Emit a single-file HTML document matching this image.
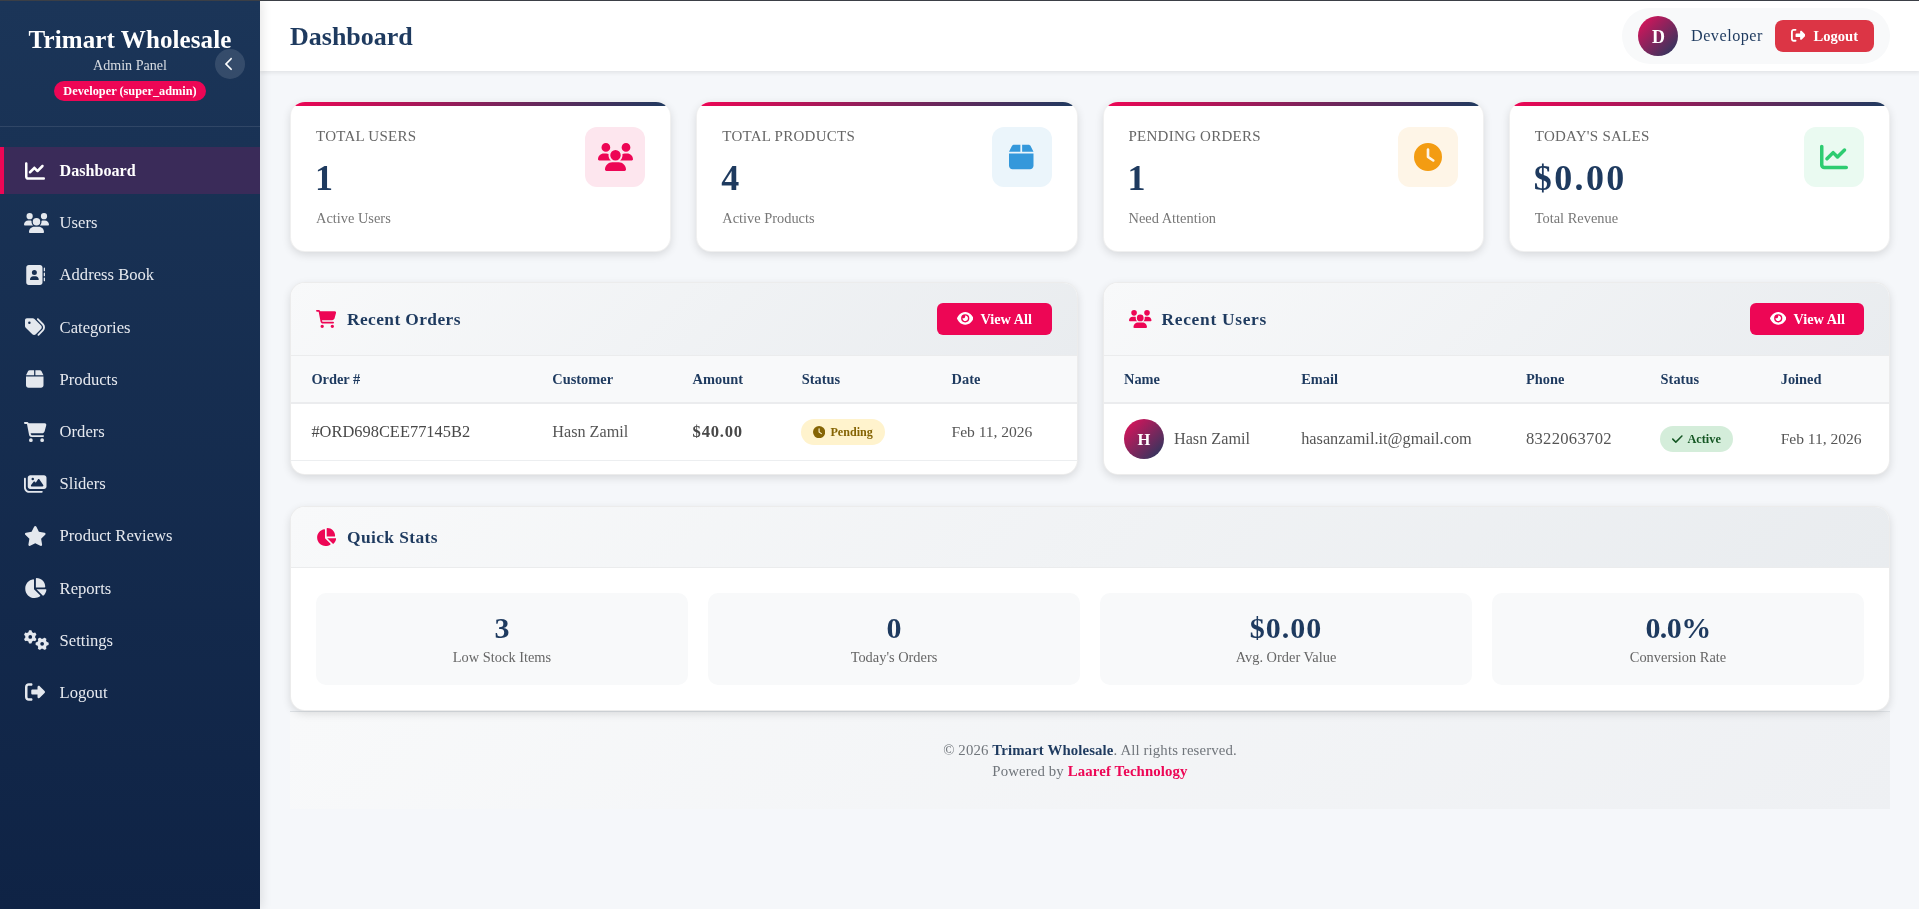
<!DOCTYPE html>
<html lang="en">
<head>
<meta charset="utf-8">
<title>Dashboard - Trimart Wholesale Admin</title>
<style>
*{box-sizing:border-box;margin:0;padding:0}
html,body{width:1919px;height:909px;overflow:hidden}
body{font-family:"Liberation Serif",serif;background:#f5f7fa;color:#4a4a4a;position:relative}
svg{display:block}
.sidebar,.main{will-change:transform}
.topline{position:absolute;left:0;top:0;width:1919px;height:1px;background:#3b3f46;z-index:50}

/* ---------- sidebar ---------- */
.sidebar{position:absolute;left:0;top:0;width:260px;height:909px;background:linear-gradient(180deg,#1b3558 0%,#0f2345 100%);box-shadow:2px 0 10px rgba(0,0,0,.1);z-index:20;color:#fff}
.sb-head{position:relative;height:127px;border-bottom:1px solid rgba(255,255,255,.1);text-align:center}
.sb-head h2{position:absolute;left:0;width:260px;top:25px;font-size:25px;line-height:30px;font-weight:700;color:#fff;letter-spacing:.1px;white-space:nowrap}
.sb-head p{position:absolute;left:0;width:260px;top:56px;font-size:14.1px;line-height:18px;color:rgba(255,255,255,.82);white-space:nowrap}
.sb-badge{position:absolute;left:54px;top:81px;width:152px;height:20px;border-radius:10px;background:#ed0655;color:#fff;font-size:12.3px;font-weight:700;line-height:20px;white-space:nowrap}
.sb-toggle{position:absolute;left:215px;top:49px;width:30px;height:30px;border-radius:50%;background:rgba(255,255,255,.12)}
.sb-toggle svg{position:absolute;left:9.5px;top:8px;width:8.75px;height:14px;fill:#fff}
.nav{position:absolute;left:0;top:147px;width:260px;list-style:none}
.nav li{height:47.2px;margin-bottom:5px;position:relative;border-left:4px solid transparent;white-space:nowrap}
.nav li.active{background:#3a2b59;border-left-color:#ed0655}
.nav li svg{position:absolute;left:21px;top:13.6px;height:20px;fill:#e4e8ee;overflow:visible}
.nav li.active svg{fill:#fff}
.nav li span{position:absolute;left:55.6px;top:0;line-height:47.2px;font-size:16.6px;color:#e6e9ef}
.nav li.active span{font-weight:700;color:#fff;font-size:16.1px}

/* ---------- header ---------- */
.main{position:absolute;left:260px;top:0;width:1660px;height:909px}
.hdr{position:absolute;left:0;top:0;width:1660px;height:71px;background:#fff;box-shadow:0 2px 4px rgba(0,0,0,.08);z-index:10}
.hdr h1{position:absolute;left:30px;top:19px;font-size:26px;line-height:36px;font-weight:700;color:#1e3a5f;white-space:nowrap}
.userpill{position:absolute;left:1362px;top:8px;width:268px;height:56px;border-radius:28px;background:#f8f9fa}
.avatar{position:absolute;left:16px;top:8px;width:40px;height:40px;border-radius:50%;background:linear-gradient(135deg,#e9105a 0%,#1e3a5f 100%);color:#fff;font-weight:700;font-size:18px;line-height:42.4px;text-align:center;padding-left:1px}
.uname{position:absolute;left:69px;top:0;line-height:56.6px;font-size:16.2px;letter-spacing:.5px;color:#1e3a5f;white-space:nowrap}
.btn-logout{position:absolute;left:153px;top:12px;width:99px;height:32px;border-radius:8px;background:#dc3545;color:#fff;font-weight:700;font-size:14.6px;line-height:32px;white-space:nowrap}
.btn-logout svg{position:absolute;left:15.5px;top:8px;width:14.6px;height:14.6px;fill:#fff}
.btn-logout span{position:absolute;left:38.5px;top:0}

/* ---------- stat cards ---------- */
.card{position:absolute;top:101px;width:381.25px;height:151px;background:#fff;border:1px solid rgba(0,0,0,.06);border-radius:15px;box-shadow:0 3px 8px rgba(0,0,0,.12);overflow:hidden}
.card:before{content:"";position:absolute;left:0;top:0;width:100%;height:4px;background:linear-gradient(90deg,#ed0655 0%,#1e3a5f 100%)}
.card h3{position:absolute;left:25px;top:24px;font-size:15px;line-height:21px;font-weight:400;color:#666;letter-spacing:.25px;white-space:nowrap}
.card .val{position:absolute;left:24px;top:53px;font-size:36px;line-height:46px;font-weight:700;color:#1e3a5f;white-space:nowrap}
.card .sub{position:absolute;left:25px;top:106px;font-size:14.4px;line-height:20px;color:#777;white-space:nowrap}
.card .ico{position:absolute;right:25px;top:25px;width:60px;height:60px;border-radius:12px}
.card .ico svg{position:absolute}

/* ---------- panels ---------- */
.panel{position:absolute;z-index:2;background:#fff;border-radius:15px;border:1px solid rgba(0,0,0,.075);box-shadow:0 3px 8px rgba(0,0,0,.12);overflow:hidden}
.panel-h{position:absolute;left:0;top:0;width:100%;height:73px;background:linear-gradient(135deg,#f8f9fa 0%,#e9ecef 100%);border-bottom:1px solid #ebeced}
.panel-h .pi{position:absolute;left:25px;fill:#ed0655}
.panel-h h3{position:absolute;left:56px;top:0;line-height:73px;font-size:17.4px;font-weight:700;color:#1e3a5f;letter-spacing:.4px;white-space:nowrap}
.btn-view{position:absolute;right:24.8px;top:20px;width:115.5px;height:32.4px;border-radius:6px;background:#ed0655;color:#fff;font-size:14.3px;font-weight:700;line-height:32px;white-space:nowrap}
.btn-view svg{position:absolute;left:20px;top:8.1px;fill:#fff}
.btn-view span{position:absolute;left:43.8px;top:0}
.thead{position:absolute;left:0;top:73px;width:100%;height:48px;background:#f8f9fa;border-bottom:2px solid #ebecee}
.th{position:absolute;top:0;line-height:46px;font-size:14.4px;font-weight:700;color:#1e3a5f;white-space:nowrap}
.row{position:absolute;left:0;top:121px;width:100%;border-bottom:1px solid #eceef0}
.td{position:absolute;top:0;font-size:16.2px;color:#555;white-space:nowrap}
.badge{position:absolute;height:25.6px;border-radius:13px;font-size:12.3px;font-weight:700;line-height:25.6px;white-space:nowrap}
.badge svg{position:absolute}
.badge span{position:absolute;top:0}
.uav{position:absolute;left:20px;top:15px;width:40px;height:40px;border-radius:50%;background:linear-gradient(135deg,#e9105a 0%,#1e3a5f 100%);color:#fff;font-weight:700;font-size:16.5px;line-height:42.4px;text-align:center}

/* ---------- quick stats ---------- */
.qs-h{position:absolute;left:0;top:0;width:100%;height:61px;background:linear-gradient(135deg,#f8f9fa 0%,#e9ecef 100%);border-bottom:1px solid #ebeced}
.qs-h h3{position:absolute;left:56px;top:0;line-height:61px;font-size:17.4px;font-weight:700;color:#1e3a5f;letter-spacing:.4px;white-space:nowrap}
.qbox{position:absolute;top:86px;width:372px;height:92px;border-radius:10px;background:#f8f9fa;text-align:center}
.qbox b{position:absolute;left:0;width:100%;top:17px;font-size:30px;line-height:36px;font-weight:700;color:#1e3a5f;white-space:nowrap}
.qbox span{position:absolute;left:0;width:100%;top:54px;font-size:14.4px;line-height:20px;color:#666;white-space:nowrap}
/* ---------- footer ---------- */
.foot{position:absolute;z-index:1;left:30px;top:711px;width:1600px;height:98px;border-top:1px solid #dfe3e7;background:linear-gradient(135deg,#f8f9fa 0%,#eef0f3 100%);text-align:center;font-size:14.8px;color:#70757b;letter-spacing:.13px}
.foot p{position:absolute;left:0;width:100%;line-height:21px;white-space:nowrap}
.foot b{color:#1e3a5f;font-weight:700}
.foot a{color:#ed0655;font-weight:700;text-decoration:none}
</style>
</head>
<body>
<div class="topline"></div>

<aside class="sidebar">
  <div class="sb-head">
    <h2>Trimart Wholesale</h2>
    <p>Admin Panel</p>
    <div class="sb-badge">Developer (super_admin)</div>
    <div class="sb-toggle"><svg viewBox="0 0 320 512"><path d="M9.4 233.400c-12.500 12.500-12.500 32.800 0 45.300l192 192c12.500 12.500 32.800 12.500 45.300 0s12.500-32.800 0-45.300L77.300 256 246.600 86.600c12.500-12.500 12.500-32.800 0-45.300s-32.800-12.500-45.300 0l-192 192z"/></svg></div>
  </div>
  <ul class="nav">
    <li class="active"><svg viewBox="0 0 512 512" style="width:20px;height:20px;left:21px"><path d="M64 64c0-17.700-14.300-32-32-32S0 46.300 0 64V400c0 44.200 35.800 80 80 80H480c17.700 0 32-14.300 32-32s-14.300-32-32-32H80c-8.800 0-16-7.200-16-16V64zm406.600 86.600c12.500-12.500 12.500-32.800 0-45.300s-32.800-12.500-45.300 0L320 210.700l-57.400-57.400c-12.500-12.500-32.800-12.500-45.300 0l-112 112c-12.500 12.500-12.500 32.800 0 45.300s32.800 12.500 45.300 0L240 221.300l57.400 57.400c12.500 12.500 32.800 12.500 45.300 0l128-128z"/></svg><span>Dashboard</span></li>
    <li><svg viewBox="0 0 640 512" style="width:25px;height:20px;left:20.3px"><path d="M144 0a80 80 0 1 1 0 160A80 80 0 1 1 144 0zM512 0a80 80 0 1 1 0 160A80 80 0 1 1 512 0zM0 298.700C0 239.800 47.800 192 106.700 192h42.700c15.900 0 31 3.500 44.600 9.700c-1.300 7.200-1.900 14.700-1.900 22.300c0 38.200 16.800 72.500 43.300 96c-.2 0-.4 0-.7 0H21.300C9.600 320 0 310.400 0 298.700zM405.300 320c-.2 0-.4 0-.7 0c26.600-23.500 43.300-57.800 43.300-96c0-7.600-.7-15-1.900-22.300c13.600-6.300 28.700-9.700 44.600-9.700h42.700C592.200 192 640 239.800 640 298.700c0 11.800-9.600 21.300-21.300 21.300H405.300zM224 224a96 96 0 1 1 192 0 96 96 0 1 1 -192 0zM128 485.300C128 411.700 187.700 352 261.300 352H378.700C452.300 352 512 411.700 512 485.300c0 14.700-11.900 26.700-26.700 26.700H154.700c-14.700 0-26.700-11.900-26.700-26.700z"/></svg><span>Users</span></li>
    <li><svg viewBox="0 0 512 512" style="width:20px;height:20px;left:21px"><path d="M96 0C60.700 0 32 28.700 32 64V448c0 35.300 28.700 64 64 64H384c35.300 0 64-28.700 64-64V64c0-35.300-28.700-64-64-64H96zM208 288h64c44.200 0 80 35.800 80 80c0 8.800-7.200 16-16 16H144c-8.800 0-16-7.200-16-16c0-44.200 35.800-80 80-80zm-32-96a64 64 0 1 1 128 0 64 64 0 1 1 -128 0zM512 80c0-8.800-7.200-16-16-16s-16 7.200-16 16v64c0 8.800 7.200 16 16 16s16-7.200 16-16V80zM496 192c-8.800 0-16 7.200-16 16v64c0 8.800 7.200 16 16 16s16-7.200 16-16V208c0-8.800-7.200-16-16-16zm16 144c0-8.800-7.200-16-16-16s-16 7.200-16 16v64c0 8.800 7.200 16 16 16s16-7.200 16-16V336z"/></svg><span>Address Book</span></li>
    <li><svg viewBox="0 0 512 512" style="width:20px;height:20px;left:21px"><path d="M345 39.100L472.800 168.400c52.400 53 52.400 138.200 0 191.200L360.800 472.900c-9.300 9.400-24.500 9.500-33.900 .2s-9.500-24.500-.2-33.900L438.600 325.900c33.900-34.300 33.900-89.400 0-123.700L310.900 72.900c-9.300-9.400-9.200-24.600 .2-33.900s24.600-9.200 33.900 .2zM0 229.500V80C0 53.500 21.500 32 48 32H197.500c17 0 33.300 6.700 45.300 18.700l168 168c25 25 25 65.500 0 90.500L277.300 442.700c-25 25-65.500 25-90.500 0l-168-168C6.700 262.700 0 246.500 0 229.500zM144 144a32 32 0 1 0 -64 0 32 32 0 1 0 64 0z"/></svg><span>Categories</span></li>
    <li><svg viewBox="0 0 448 512" style="width:17.5px;height:20px;left:22.1px"><path d="M50.700 58.500L0 160H208V32H93.700C75.500 32 58.900 42.300 50.700 58.500zM240 160H448L397.300 58.500C389.100 42.300 372.500 32 354.300 32H240V160zm208 32H0V416c0 35.300 28.700 64 64 64H384c35.300 0 64-28.700 64-64V192z"/></svg><span>Products</span></li>
    <li><svg viewBox="0 0 576 512" style="width:22.5px;height:20px;left:20.4px"><path d="M0 24C0 10.700 10.700 0 24 0H69.500c22 0 41.500 12.800 50.600 32h411c26.300 0 45.500 25 38.600 50.400l-41 152.300c-8.500 31.400-37 53.300-69.500 53.300H170.700l5.400 28.500c2.200 11.300 12.100 19.500 23.600 19.500H488c13.300 0 24 10.700 24 24s-10.700 24-24 24H199.700c-34.600 0-64.300-24.600-70.700-58.500L77.400 54.500c-.7-3.800-4-6.500-7.900-6.500H24C10.700 48 0 37.300 0 24zM128 464a48 48 0 1 1 96 0 48 48 0 1 1 -96 0zm336-48a48 48 0 1 1 0 96 48 48 0 1 1 0-96z"/></svg><span>Orders</span></li>
    <li><svg viewBox="0 0 576 512" style="width:22.5px;height:20px;left:20.4px"><path d="M160 32c-35.300 0-64 28.700-64 64V320c0 35.300 28.700 64 64 64H512c35.300 0 64-28.700 64-64V96c0-35.300-28.700-64-64-64H160zM396 138.700l96 144c4.900 7.400 5.400 16.800 1.200 24.600S480.900 320 472 320H328 280 200c-9.200 0-17.600-5.300-21.600-13.600s-2.900-18.200 2.900-25.400l64-80c4.600-5.700 11.400-9 18.700-9s14.200 3.300 18.700 9l17.300 21.600 56-84C360.500 132 368 128 376 128s15.500 4 20 10.700zM192 128a32 32 0 1 1 64 0 32 32 0 1 1 -64 0zM48 120c0-13.300-10.700-24-24-24S0 106.700 0 120V344c0 75.100 60.900 136 136 136H456c13.300 0 24-10.700 24-24s-10.700-24-24-24H136c-48.600 0-88-39.400-88-88V120z"/></svg><span>Sliders</span></li>
    <li><svg viewBox="0 0 576 512" style="width:22.5px;height:20px;left:20.4px"><path d="M316.900 18C311.600 7 300.400 0 288.100 0s-23.400 7-28.800 18L195 150.300 51.400 171.500c-12 1.800-22 10.200-25.700 21.700s-.7 24.200 7.900 32.700L137.800 329 113.200 474.700c-2 12 3 24.200 12.900 31.300s23 8 33.800 2.300l128.300-68.500 128.300 68.500c10.800 5.700 23.900 4.900 33.800-2.300s14.900-19.300 12.900-31.300L438.500 329 542.700 225.900c8.600-8.500 11.700-21.200 7.900-32.700s-13.700-19.900-25.700-21.700L381.200 150.300 316.900 18z"/></svg><span>Product Reviews</span></li>
    <li><svg viewBox="0 0 576 512" style="width:22.5px;height:20px;left:20.4px"><path d="M304 240V16.600c0-9 7-16.600 16-16.600C443.700 0 544 100.300 544 224c0 9-7.600 16-16.600 16H304zM32 272C32 150.700 122.100 50.300 239 34.300c9.200-1.300 17 6.100 17 15.400V288L412.500 444.500c6.700 6.700 6.200 17.700-1.500 23.100C371.800 495.600 323.800 512 272 512C139.500 512 32 404.600 32 272zm526.400 16c9.300 0 16.600 7.800 15.400 17c-7.700 55.900-34.600 105.600-73.900 142.300c-6 5.600-15.400 5.200-21.200-.7L320 288H558.400z"/></svg><span>Reports</span></li>
    <li><svg viewBox="0 0 640 512" style="width:25px;height:20px;left:20.3px"><path d="M308.500 135.300c7.100-6.300 9.900-16.200 6.200-25c-2.300-5.300-4.800-10.500-7.600-15.500L304 89.400c-3-5-6.300-9.900-9.800-14.600c-5.700-7.600-15.700-10.100-24.700-7.100l-28.200 9.300c-10.700-8.800-23-16-36.200-20.900L199 27.100c-1.900-9.300-9.100-16.700-18.500-17.800C173.900 8.400 167.200 8 160.400 8h-.7c-6.800 0-13.500 .4-20.100 1.200c-9.400 1.100-16.600 8.600-18.500 17.800L115 56.100c-13.300 5-25.500 12.100-36.200 20.900L50.500 67.800c-9-3-19-.5-24.700 7.100c-3.500 4.700-6.800 9.600-9.900 14.600l-3 5.300c-2.800 5-5.300 10.200-7.600 15.600c-3.700 8.700-.9 18.600 6.200 25l22.200 19.800C32.600 161.900 32 168.900 32 176s.6 14.100 1.700 20.900L11.500 216.700c-7.100 6.300-9.900 16.200-6.200 25c2.300 5.300 4.800 10.500 7.600 15.600l3 5.200c3 5.100 6.300 9.900 9.900 14.600c5.700 7.600 15.700 10.100 24.700 7.100l28.200-9.300c10.700 8.800 23 16 36.200 20.900l6.100 29.100c1.900 9.300 9.100 16.700 18.500 17.800c6.700 .8 13.500 1.200 20.400 1.200s13.700-.4 20.400-1.200c9.400-1.100 16.600-8.600 18.500-17.800l6.100-29.100c13.300-5 25.500-12.100 36.200-20.900l28.200 9.300c9 3 19 .5 24.700-7.100c3.500-4.700 6.800-9.500 9.800-14.600l3.100-5.400c2.800-5 5.300-10.200 7.600-15.500c3.700-8.700 .9-18.600-6.200-25l-22.200-19.800c1.100-6.800 1.700-13.800 1.700-20.900s-.6-14.100-1.700-20.900l22.200-19.800zM112 176a48 48 0 1 1 96 0 48 48 0 1 1 -96 0zM504.700 500.500c6.300 7.100 16.200 9.900 25 6.200c5.300-2.300 10.500-4.800 15.500-7.600l5.400-3.100c5-3 9.900-6.300 14.600-9.800c7.600-5.700 10.100-15.700 7.100-24.700l-9.300-28.200c8.800-10.700 16-23 20.900-36.200l29.100-6.100c9.300-1.900 16.700-9.100 17.800-18.500c.8-6.700 1.200-13.500 1.200-20.400s-.4-13.700-1.200-20.400c-1.100-9.400-8.600-16.600-17.800-18.500L583.900 307c-5-13.300-12.100-25.500-20.900-36.200l9.300-28.200c3-9 .5-19-7.100-24.700c-4.700-3.500-9.600-6.800-14.600-9.900l-5.300-3c-5-2.800-10.200-5.300-15.600-7.600c-8.700-3.700-18.600-.9-25 6.200l-19.800 22.200c-6.800-1.100-13.800-1.700-20.900-1.700s-14.100 .6-20.900 1.700l-19.800-22.200c-6.300-7.100-16.200-9.900-25-6.200c-5.300 2.300-10.500 4.800-15.600 7.600l-5.200 3c-5.100 3-9.900 6.300-14.600 9.900c-7.600 5.700-10.100 15.700-7.100 24.700l9.300 28.200c-8.800 10.700-16 23-20.900 36.200L315.100 313c-9.300 1.900-16.700 9.100-17.800 18.500c-.8 6.700-1.200 13.500-1.200 20.400s.4 13.700 1.200 20.400c1.100 9.400 8.600 16.600 17.800 18.500l29.100 6.100c5 13.300 12.100 25.500 20.900 36.200l-9.300 28.200c-3 9-.5 19 7.100 24.700c4.700 3.500 9.500 6.800 14.600 9.800l5.400 3.100c5 2.800 10.200 5.300 15.500 7.600c8.700 3.700 18.600 .9 25-6.200l19.800-22.200c6.800 1.100 13.800 1.700 20.900 1.700s14.100-.6 20.900-1.700l19.800 22.200zM464 304a48 48 0 1 1 0 96 48 48 0 1 1 0-96z"/></svg><span>Settings</span></li>
    <li><svg viewBox="0 0 512 512" style="width:20px;height:20px;left:21px"><path d="M377.900 105.900L500.700 228.700c7.200 7.200 11.300 17.100 11.300 27.300s-4.100 20.100-11.300 27.300L377.900 406.100c-6.400 6.400-15 9.900-24 9.900c-18.700 0-33.900-15.200-33.900-33.900l0-62.100-128 0c-17.700 0-32-14.300-32-32l0-64c0-17.700 14.300-32 32-32l128 0 0-62.100c0-18.700 15.200-33.900 33.900-33.900c9 0 17.600 3.600 24 9.900zM160 96L96 96c-17.700 0-32 14.300-32 32l0 256c0 17.700 14.300 32 32 32l64 0c17.700 0 32 14.300 32 32s-14.300 32-32 32l-64 0c-53 0-96-43-96-96L0 128C0 75 43 32 96 32l64 0c17.700 0 32 14.300 32 32s-14.300 32-32 32z"/></svg><span>Logout</span></li>
  </ul>
</aside>

<div class="main">
  <header class="hdr">
    <h1>Dashboard</h1>
    <div class="userpill">
      <div class="avatar">D</div>
      <div class="uname">Developer</div>
      <div class="btn-logout"><svg viewBox="0 0 512 512"><path d="M377.900 105.900L500.700 228.700c7.200 7.200 11.300 17.100 11.300 27.300s-4.100 20.100-11.300 27.300L377.900 406.100c-6.400 6.400-15 9.900-24 9.900c-18.700 0-33.900-15.200-33.900-33.900l0-62.100-128 0c-17.700 0-32-14.300-32-32l0-64c0-17.700 14.300-32 32-32l128 0 0-62.100c0-18.700 15.200-33.900 33.900-33.900c9 0 17.600 3.600 24 9.900zM160 96L96 96c-17.700 0-32 14.300-32 32l0 256c0 17.700 14.300 32 32 32l64 0c17.700 0 32 14.300 32 32s-14.300 32-32 32l-64 0c-53 0-96-43-96-96L0 128C0 75 43 32 96 32l64 0c17.700 0 32 14.300 32 32s-14.300 32-32 32z"/></svg><span>Logout</span></div>
    </div>
  </header>
  <div class="card" style="left:30px">
    <h3>TOTAL USERS</h3><div class="val">1</div><div class="sub">Active Users</div>
    <div class="ico" style="background:#fde6ee"><svg viewBox="0 0 640 512" style="width:35px;height:28px;fill:#ed0655;left:12.5px;top:15.5px"><path d="M144 0a80 80 0 1 1 0 160A80 80 0 1 1 144 0zM512 0a80 80 0 1 1 0 160A80 80 0 1 1 512 0zM0 298.700C0 239.800 47.800 192 106.700 192h42.700c15.900 0 31 3.500 44.600 9.700c-1.300 7.200-1.900 14.700-1.900 22.300c0 38.200 16.800 72.500 43.300 96c-.2 0-.4 0-.7 0H21.300C9.600 320 0 310.400 0 298.700zM405.300 320c-.2 0-.4 0-.7 0c26.600-23.500 43.300-57.800 43.300-96c0-7.600-.7-15-1.900-22.300c13.600-6.300 28.700-9.700 44.600-9.700h42.700C592.200 192 640 239.800 640 298.700c0 11.800-9.600 21.300-21.300 21.300H405.300zM224 224a96 96 0 1 1 192 0 96 96 0 1 1 -192 0zM128 485.300C128 411.700 187.700 352 261.300 352H378.700C452.300 352 512 411.700 512 485.300c0 14.700-11.900 26.700-26.700 26.700H154.700c-14.700 0-26.700-11.900-26.700-26.700z"/></svg></div>
  </div>
  <div class="card" style="left:436.25px">
    <h3>TOTAL PRODUCTS</h3><div class="val">4</div><div class="sub">Active Products</div>
    <div class="ico" style="background:#ebf5fb"><svg viewBox="0 0 448 512" style="width:24.5px;height:28px;fill:#3498db;left:17.75px;top:15.5px"><path d="M50.700 58.500L0 160H208V32H93.700C75.500 32 58.900 42.300 50.700 58.500zM240 160H448L397.300 58.500C389.100 42.300 372.500 32 354.300 32H240V160zm208 32H0V416c0 35.300 28.700 64 64 64H384c35.300 0 64-28.700 64-64V192z"/></svg></div>
  </div>
  <div class="card" style="left:842.5px">
    <h3>PENDING ORDERS</h3><div class="val">1</div><div class="sub">Need Attention</div>
    <div class="ico" style="background:#fef5e7"><svg viewBox="0 0 512 512" style="width:28px;height:28px;fill:#f39c12;left:16px;top:15.5px"><path d="M256 0a256 256 0 1 1 0 512A256 256 0 1 1 256 0zM232 120V256c0 8 4 15.500 10.700 20l96 64c11 7.400 25.900 4.400 33.300-6.700s4.400-25.900-6.700-33.300L280 243.200V120c0-13.300-10.700-24-24-24s-24 10.700-24 24z"/></svg></div>
  </div>
  <div class="card" style="left:1248.75px">
    <h3>TODAY'S SALES</h3><div class="val" style="letter-spacing:2.4px">$0.00</div><div class="sub">Total Revenue</div>
    <div class="ico" style="background:#eafaf1"><svg viewBox="0 0 512 512" style="width:28px;height:28px;fill:#2ecc71;left:16px;top:15.5px"><path d="M64 64c0-17.700-14.300-32-32-32S0 46.300 0 64V400c0 44.200 35.800 80 80 80H480c17.700 0 32-14.300 32-32s-14.300-32-32-32H80c-8.800 0-16-7.200-16-16V64zm406.600 86.600c12.500-12.500 12.500-32.800 0-45.300s-32.800-12.500-45.300 0L320 210.700l-57.400-57.400c-12.500-12.500-32.800-12.500-45.300 0l-112 112c-12.500 12.500-12.500 32.800 0 45.300s32.800 12.500 45.300 0L240 221.300l57.400 57.400c12.500 12.500 32.800 12.500 45.300 0l128-128z"/></svg></div>
  </div>
  <div class="panel" style="left:30px;top:282px;width:788px;height:193px">
    <div class="panel-h"><svg viewBox="0 0 576 512" style="width:20.25px;height:18px;left:25px;top:27px;fill:#ed0655;position:absolute"><path d="M0 24C0 10.700 10.700 0 24 0H69.500c22 0 41.500 12.800 50.600 32h411c26.300 0 45.500 25 38.600 50.400l-41 152.300c-8.500 31.400-37 53.300-69.500 53.300H170.700l5.400 28.500c2.200 11.300 12.100 19.500 23.600 19.500H488c13.300 0 24 10.700 24 24s-10.700 24-24 24H199.700c-34.600 0-64.300-24.600-70.700-58.500L77.400 54.500c-.7-3.800-4-6.500-7.900-6.500H24C10.700 48 0 37.300 0 24zM128 464a48 48 0 1 1 96 0 48 48 0 1 1 -96 0zm336-48a48 48 0 1 1 0 96 48 48 0 1 1 0-96z"/></svg><h3>Recent Orders</h3>
      <div class="btn-view"><svg viewBox="0 0 576 512" style="width:16.425px;height:14.6px"><path d="M288 32c-80.800 0-145.500 36.800-192.600 80.600C48.600 156 17.300 208 2.500 243.700c-3.300 7.900-3.300 16.700 0 24.600C17.300 304 48.600 356 95.400 399.400C142.500 443.200 207.200 480 288 480s145.500-36.800 192.600-80.600c46.800-43.500 78.100-95.400 93-131.100c3.300-7.900 3.300-16.700 0-24.600c-14.900-35.700-46.200-87.700-93-131.100C433.500 68.800 368.800 32 288 32zM144 256a144 144 0 1 1 288 0 144 144 0 1 1 -288 0zm144-64c0 35.300-28.700 64-64 64c-7.100 0-13.900-1.200-20.300-3.300c-5.500-1.800-11.900 1.600-11.700 7.400c.3 6.900 1.300 13.800 3.200 20.700c13.700 51.200 66.400 81.600 117.600 67.900s81.600-66.400 67.900-117.600c-11.100-41.500-47.800-69.400-88.600-71.100c-5.800-.2-9.200 6.100-7.400 11.700c2.100 6.400 3.300 13.200 3.300 20.300z"/></svg><span>View All</span></div></div>
    <div class="thead"><span class="th" style="left:20.4px">Order #</span><span class="th" style="left:261.3px">Customer</span><span class="th" style="left:401.6px">Amount</span><span class="th" style="left:510.8px">Status</span><span class="th" style="left:660.6px">Date</span></div>
    <div class="row" style="height:57px;line-height:56px">
      <span class="td" style="left:20.4px;color:#484848;font-size:16.4px;letter-spacing:.02px">#ORD698CEE77145B2</span>
      <span class="td" style="left:261.3px">Hasn Zamil</span>
      <span class="td" style="left:401.6px;font-weight:700;color:#484848;font-size:16.6px;letter-spacing:.75px">$40.00</span>
      <div class="badge" style="left:509.8px;top:15.4px;width:84.3px;line-height:27px;font-size:12.1px;background:#fff3cd;color:#856404"><svg viewBox="0 0 512 512" style="width:12.2px;height:12.2px;left:12px;top:6.3px;fill:#856404"><path d="M256 0a256 256 0 1 1 0 512A256 256 0 1 1 256 0zM232 120V256c0 8 4 15.500 10.700 20l96 64c11 7.400 25.900 4.400 33.300-6.700s4.400-25.900-6.700-33.300L280 243.200V120c0-13.300-10.700-24-24-24s-24 10.700-24 24z"/></svg><span style="left:29.7px">Pending</span></div>
      <span class="td" style="left:660.6px;font-size:15.6px;letter-spacing:-.05px">Feb 11, 2026</span>
    </div>
  </div>
  <div class="panel" style="left:843px;top:282px;width:787px;height:193px">
    <div class="panel-h"><svg viewBox="0 0 640 512" style="width:22.5px;height:18px;left:25px;top:27px;fill:#ed0655;position:absolute"><path d="M144 0a80 80 0 1 1 0 160A80 80 0 1 1 144 0zM512 0a80 80 0 1 1 0 160A80 80 0 1 1 512 0zM0 298.700C0 239.800 47.800 192 106.700 192h42.700c15.900 0 31 3.500 44.600 9.700c-1.300 7.200-1.900 14.700-1.900 22.300c0 38.200 16.800 72.500 43.300 96c-.2 0-.4 0-.7 0H21.300C9.600 320 0 310.400 0 298.700zM405.300 320c-.2 0-.4 0-.7 0c26.600-23.500 43.300-57.800 43.300-96c0-7.600-.7-15-1.900-22.300c13.600-6.300 28.700-9.700 44.600-9.700h42.700C592.200 192 640 239.800 640 298.700c0 11.800-9.600 21.300-21.300 21.300H405.300zM224 224a96 96 0 1 1 192 0 96 96 0 1 1 -192 0zM128 485.300C128 411.700 187.700 352 261.300 352H378.700C452.300 352 512 411.700 512 485.300c0 14.700-11.900 26.700-26.700 26.700H154.700c-14.700 0-26.700-11.900-26.700-26.700z"/></svg><h3 style="left:57.5px;letter-spacing:.7px">Recent Users</h3>
      <div class="btn-view" style="width:114.5px"><svg viewBox="0 0 576 512" style="width:16.425px;height:14.6px"><path d="M288 32c-80.800 0-145.500 36.800-192.600 80.600C48.600 156 17.300 208 2.500 243.700c-3.300 7.900-3.300 16.700 0 24.600C17.300 304 48.600 356 95.400 399.400C142.500 443.200 207.200 480 288 480s145.500-36.800 192.600-80.600c46.800-43.500 78.100-95.400 93-131.100c3.300-7.900 3.300-16.700 0-24.600c-14.900-35.700-46.200-87.700-93-131.100C433.500 68.800 368.800 32 288 32zM144 256a144 144 0 1 1 288 0 144 144 0 1 1 -288 0zm144-64c0 35.300-28.700 64-64 64c-7.100 0-13.900-1.200-20.300-3.300c-5.500-1.800-11.900 1.600-11.700 7.400c.3 6.900 1.300 13.800 3.200 20.700c13.700 51.200 66.400 81.600 117.600 67.900s81.600-66.400 67.900-117.600c-11.100-41.500-47.800-69.400-88.600-71.100c-5.800-.2-9.200 6.100-7.400 11.700c2.100 6.400 3.300 13.200 3.300 20.300z"/></svg><span>View All</span></div></div>
    <div class="thead"><span class="th" style="left:20px">Name</span><span class="th" style="left:197.2px">Email</span><span class="th" style="left:421.9px">Phone</span><span class="th" style="left:556.6px">Status</span><span class="th" style="left:676.7px">Joined</span></div>
    <div class="row" style="height:71px;line-height:70px">
      <div class="uav">H</div>
      <span class="td" style="left:70px">Hasn Zamil</span>
      <span class="td" style="left:197.2px;font-size:16.3px">hasanzamil.it@gmail.com</span>
      <span class="td" style="left:421.9px;font-size:16.6px;letter-spacing:.3px">8322063702</span>
      <div class="badge" style="left:555.8px;top:22px;width:73.3px;height:26px;line-height:26px;background:#d4edda;color:#155724"><svg viewBox="0 0 448 512" style="width:10.675px;height:12.2px;left:12.2px;top:6.6px;fill:#155724"><path d="M438.600 105.400c12.500 12.500 12.500 32.800 0 45.300l-256 256c-12.500 12.500-32.800 12.500-45.300 0l-128-128c-12.500-12.500-12.500-32.800 0-45.300s32.800-12.500 45.300 0L160 338.700 393.400 105.400c12.500-12.500 32.800-12.500 45.300 0z"/></svg><span style="left:27.6px">Active</span></div>
      <span class="td" style="left:676.7px;font-size:15.6px;letter-spacing:-.05px">Feb 11, 2026</span>
    </div>
  </div>
  <div class="panel" style="left:30px;top:506px;width:1600px;height:205px">
    <div class="qs-h"><svg viewBox="0 0 576 512" style="width:20.25px;height:18px;left:25px;top:21px;fill:#ed0655;position:absolute"><path d="M304 240V16.600c0-9 7-16.600 16-16.600C443.700 0 544 100.300 544 224c0 9-7.600 16-16.600 16H304zM32 272C32 150.700 122.100 50.300 239 34.300c9.200-1.300 17 6.100 17 15.400V288L412.500 444.500c6.700 6.700 6.200 17.700-1.500 23.100C371.800 495.600 323.800 512 272 512C139.500 512 32 404.600 32 272zm526.400 16c9.300 0 16.600 7.800 15.400 17c-7.700 55.900-34.600 105.600-73.900 142.300c-6 5.600-15.400 5.200-21.200-.7L320 288H558.400z"/></svg><h3>Quick Stats</h3></div>
    <div class="qbox" style="left:25px"><b style="">3</b><span>Low Stock Items</span></div>
    <div class="qbox" style="left:417px"><b style="">0</b><span>Today's Orders</span></div>
    <div class="qbox" style="left:809px"><b style="letter-spacing:1px">$0.00</b><span>Avg. Order Value</span></div>
    <div class="qbox" style="left:1201px"><b style="letter-spacing:-.6px">0.0%</b><span>Conversion Rate</span></div>
  </div>
  <footer class="foot">
    <p style="top:28px">© 2026 <b>Trimart Wholesale</b>. All rights reserved.</p>
    <p style="top:49px">Powered by <a>Laaref Technology</a></p>
  </footer>
</div>
</body>
</html>
